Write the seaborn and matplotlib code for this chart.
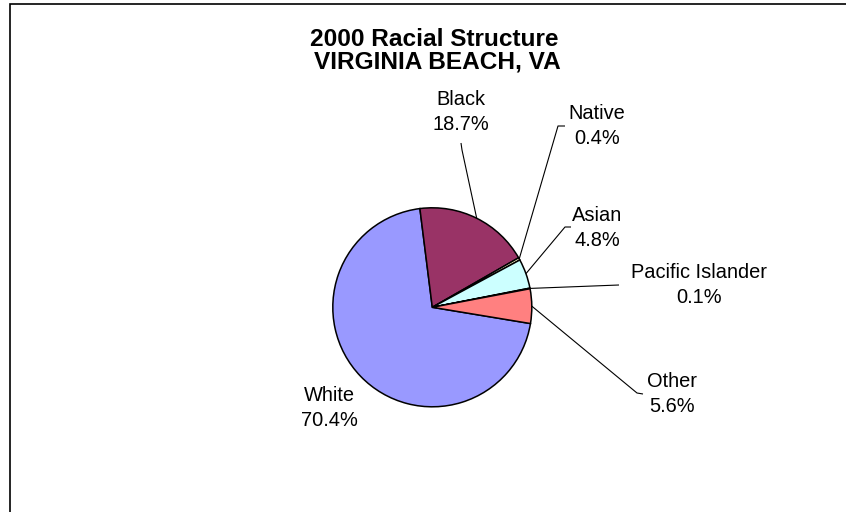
import matplotlib
matplotlib.use("Agg")
import matplotlib.pyplot as plt
from matplotlib.patches import Rectangle
import numpy as np
import seaborn as sns

# Census 2000 racial composition, Virginia Beach, VA (percent of population)
categories = ["White", "Black", "Native", "Asian", "Pacific Islander", "Other"]
shares = [70.4, 18.7, 0.4, 4.8, 0.1, 5.6]
slice_colors = ["#9999FF", "#993366", "#FFFFCC", "#CCFFFF", "#660066", "#FF8080"]
title_lines = ["2000 Racial Structure", "VIRGINIA BEACH, VA"]

sns.set_theme(style="white")
plt.rcParams["font.family"] = ["Liberation Sans", "DejaVu Sans"]
plt.rcParams["text.color"] = "black"

W, H = 846, 512
fig = plt.figure(figsize=(W / 100, H / 100), dpi=100)
ax = fig.add_axes([0, 0, 1, 1])


def px(x, y):
    """Convert a position measured from the top-left corner into axes data units."""
    return x, H - y


palette = sns.color_palette(slice_colors)
center = px(432.3, 307.3)
radius = 99.5
wedges, _ = ax.pie(
    shares,
    colors=palette,
    startangle=-9.4,
    counterclock=False,
    center=center,
    radius=radius,
    wedgeprops=dict(edgecolor="black", linewidth=1.1),
    frame=True,
)
ax.set_xlim(0, W)
ax.set_ylim(0, H)
ax.set_aspect("equal")
ax.axis("off")

# label block centres and the leader-line start points (top-left pixel layout)
label_pos = {
    "White": (329, 408),
    "Black": (461, 112),
    "Native": (597, 126),
    "Asian": (597, 228),
    "Pacific Islander": (699, 285),
    "Other": (672, 394),
}
leader_start = {
    "Black": [(461, 143), (462, 150)],
    "Native": [(565, 126), (558, 126)],
    "Asian": [(571, 227), (565, 227)],
    "Pacific Islander": [(619, 285)],
    "Other": [(643, 394), (637, 393)],
}

for wedge, name, val in zip(wedges, categories, shares):
    lx, ly = px(*label_pos[name])
    ax.text(lx, ly, f"{name}\n{val:.1f}%", ha="center", va="center",
            fontsize=14.4, color="black", linespacing=1.38)
    if name in leader_start:
        mid = np.deg2rad((wedge.theta1 + wedge.theta2) / 2)
        ex = center[0] + radius * np.cos(mid)
        ey = center[1] + radius * np.sin(mid)
        pts = [px(*p) for p in leader_start[name]] + [(ex, ey)]
        xs, ys = zip(*pts)
        ax.plot(xs, ys, color="black", linewidth=0.8, solid_capstyle="butt")

tx, ty = px(434, 46)
ax.text(tx, ty, title_lines[0], ha="center", va="baseline",
        fontsize=17.6, fontweight="bold", color="black")
tx, ty = px(437, 69)
ax.text(tx, ty, title_lines[1], ha="center", va="baseline",
        fontsize=17.6, fontweight="bold", color="black")

# chart-area border running off the right and bottom edges
fig.add_artist(Rectangle((9.5 / W, -0.1), 1.2, (H - 3.5) / H + 0.1,
                         transform=fig.transFigure, fill=False,
                         edgecolor="black", linewidth=1.2))

fig.savefig("out.png", dpi=100, facecolor="white")
